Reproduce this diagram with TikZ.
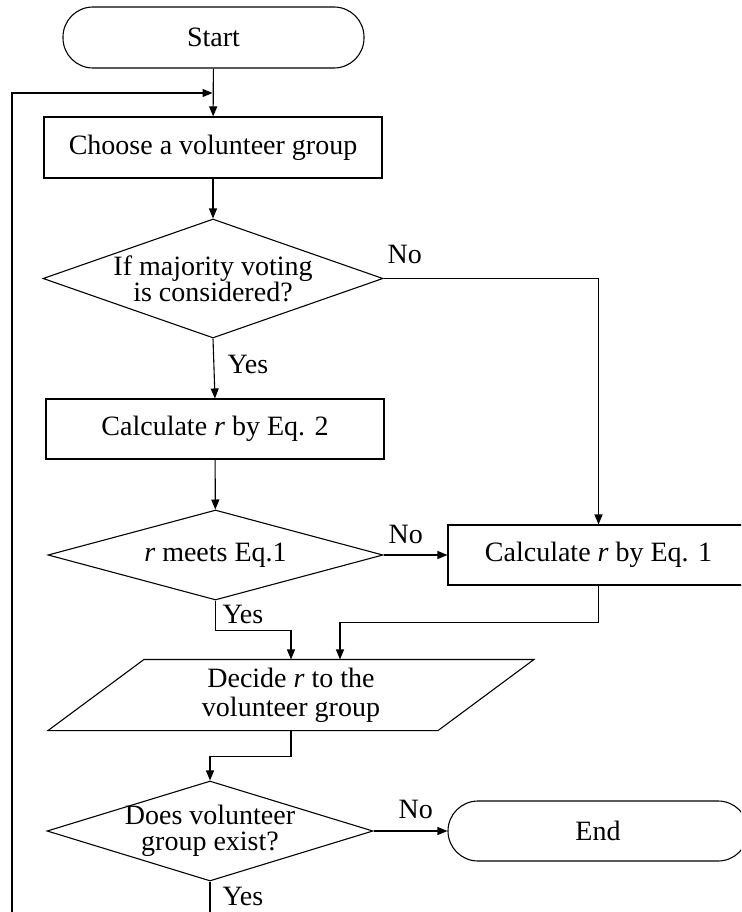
\documentclass[tikz,border=0pt]{standalone}
\usepackage{fontspec}
\setmainfont{Liberation Serif}
\usetikzlibrary{arrows.meta,shapes.geometric}
\begin{document}
\begin{tikzpicture}[x=1pt,y=-1pt, line width=1.1pt,
  font=\fontsize{28}{26}\selectfont,
  box/.style={draw, rectangle, inner sep=0pt, align=center},
  term/.style={draw, rectangle, rounded corners=30pt, inner sep=0pt},
  dia/.style={draw, diamond, inner sep=0pt},
  lbl/.style={anchor=base west, inner sep=0pt},
  arr/.style={-{Triangle[length=10pt,width=8pt]}},
]
\useasboundingbox (0,0) rectangle (741,912);
\clip (0,0) rectangle (741,912);

\node[term, minimum width=301pt, minimum height=61pt] (start) at (213.5,37.5) {Start};
\node[box, minimum width=338pt, minimum height=61pt] (choose) at (213,147.5) {Choose a volunteer group};
\node[dia, minimum width=340pt, minimum height=119pt,
  label={[align=center, inner sep=0pt]center:If majority voting\\is considered?}] (d1) at (213,278.5) {};
\node[box, minimum width=338pt, minimum height=60pt] (calc2) at (215,429) {Calculate \textit{r} by Eq. 2};
\node[dia, minimum width=335pt, minimum height=90pt,
  label={[inner sep=0pt]center:\textit{r} meets Eq.1}] (d2) at (215.5,555) {};
\node[box, minimum width=301pt, minimum height=60pt] (calc1) at (598.5,555) {Calculate \textit{r} by Eq. 1};
\node[minimum width=390pt, minimum height=70pt, inner sep=0pt, align=center] (dec) at (291,695) {Decide \textit{r} to the\\[3pt]volunteer group};
\draw ([xshift=-147pt]dec.north) -- ([xshift=243pt]dec.north) -- ([xshift=147pt]dec.south) -- ([xshift=-243pt]dec.south) -- cycle;
\node[dia, minimum width=326pt, minimum height=100pt,
  label={[align=center, inner sep=0pt]center:Does volunteer\\group exist?}] (d3) at (210,831) {};
\node[term, minimum width=300pt, minimum height=60pt] (end) at (598,831) {End};

\coordinate (loop) at (212.5,93);

\draw[arr] (start) -- (choose);
\draw[arr] (choose) -- (d1);
\draw[arr] (d1.south) -- (calc2.north);
\draw[arr] (d1.east) -| (calc1.north);
\draw[arr] (calc2) -- (d2);
\draw[arr] (d2.east) -- (calc1.west);
\draw[arr] (d2.south) -- ++(0,30) -| (dec.north);
\draw[arr] (calc1.south) -- ++(0,37) -| ([xshift=49pt]dec.north);
\draw[arr] (dec.south) -- ++(0,26) -| (d3.north);
\draw[arr] (d3.east) -- (end.west);
\draw[arr] (d3.south) -- ++(0,40) -| (12,93) -- (loop);

\node[lbl] (no1) at (387,263) {No};
\node[lbl] (yes1) at (227,373) {Yes};
\node[lbl] (no2) at (388,543) {No};
\node[lbl] (yes2) at (222,623) {Yes};
\node[lbl] (no3) at (398,818) {No};
\node[lbl] (yes3) at (222,905) {Yes};
\end{tikzpicture}
\end{document}
